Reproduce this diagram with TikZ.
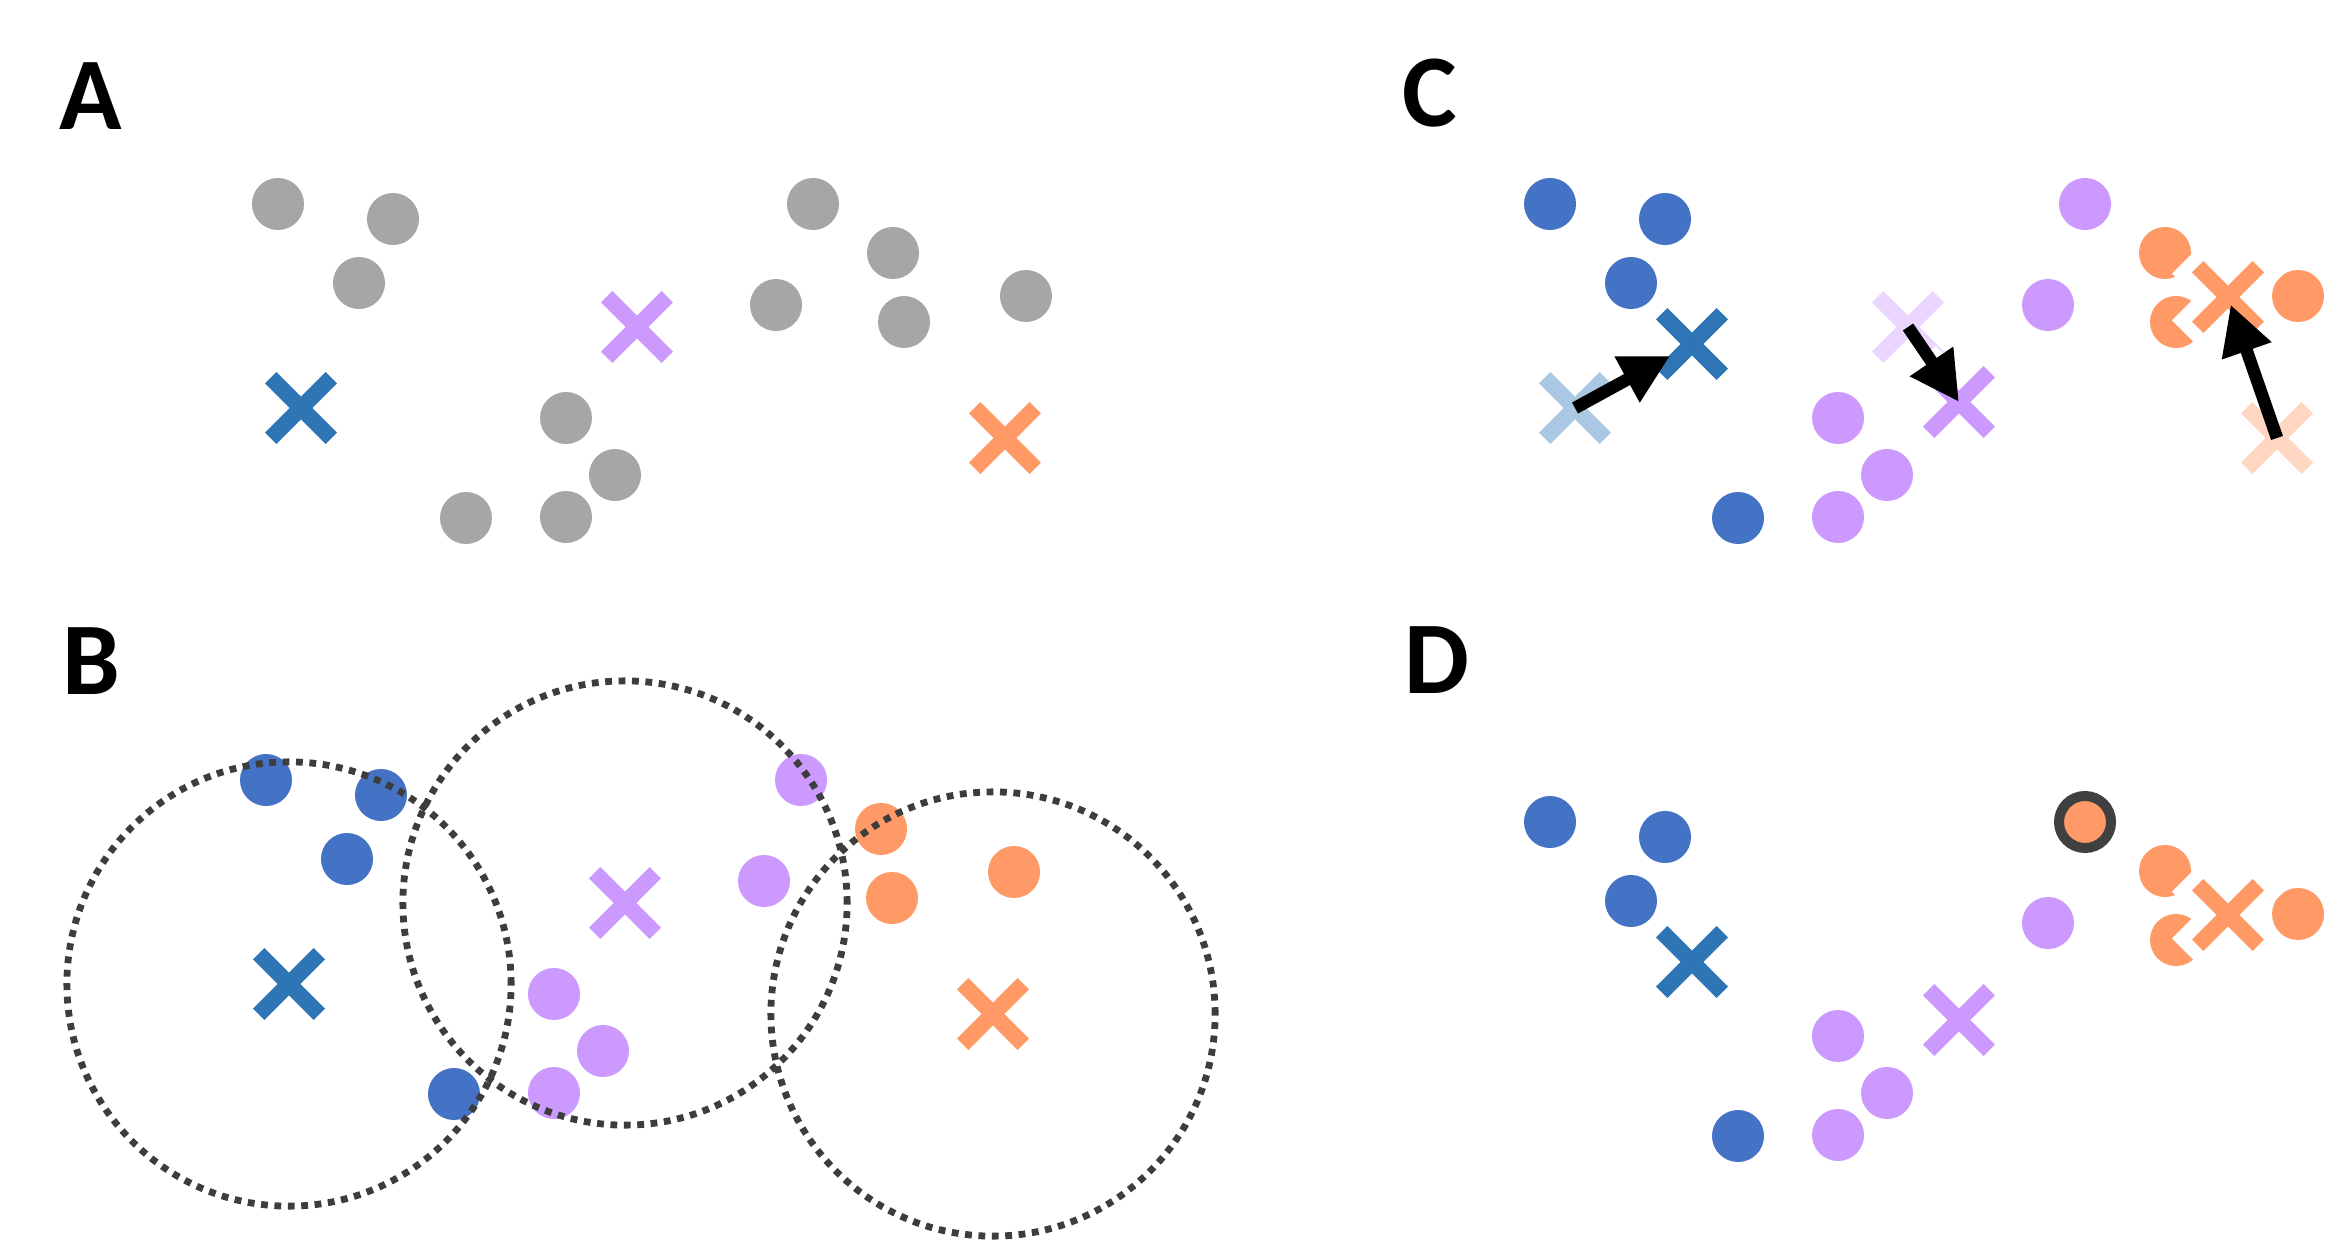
\documentclass[tikz,border=0pt]{standalone}
\usepackage{fontspec}
\setsansfont{Carlito}
\usetikzlibrary{arrows.meta}

\definecolor{ptblue}{HTML}{4472C4}
\definecolor{ctblue}{HTML}{2E75B6}
\definecolor{ptpurple}{HTML}{CC99FF}
\definecolor{ptorange}{HTML}{FF9966}
\definecolor{ptgray}{HTML}{A6A6A6}
\definecolor{ringgray}{HTML}{404040}

\begin{document}
\begin{tikzpicture}[x=0.01cm,y=-0.01cm,
    dot/.style={circle,inner sep=0pt,minimum size=0.52cm},
    ring/.style={circle,draw=ringgray,line width=0.10cm,inner sep=0pt,minimum size=0.52cm},
    panel/.style={font=\sffamily\bfseries\fontsize{29.3}{30}\selectfont,inner sep=0pt},
    reach/.style={draw=ringgray!95!black,line width=0.068cm,dash pattern=on 0.068cm off 0.066cm},
    move/.style={draw=black,line width=0.125cm,-{Triangle[length=0.49cm,width=0.49cm]}},
    xmark/.pic={
        \draw[white,line width=0.46cm] (-39.7,-39.7) -- (39.7,39.7) (-39.7,39.7) -- (39.7,-39.7);
        \draw[line width=0.16cm] (-30.3,-30.3) -- (30.3,30.3) (-30.3,30.3) -- (30.3,-30.3);
        \coordinate (-c) at (0,0);
    }
    ]

    \fill[white] (0,0) rectangle (2334,1240);
    \useasboundingbox (0,0) rectangle (2334,1240);

    \node[panel] (labA) at (91,96) {A};
    \node[panel] (labB) at (91,661) {B};
    \node[panel] (labC) at (1430,93) {C};
    \node[panel] (labD) at (1437,660) {D};

    % A: data points and initial centroids
    \foreach \x/\y [count=\i] in {278/204,393/219,359/283,466/518,566/418,615/475,
        566/517,813/204,776/305,893/253,904/322,1026/296}
        \node[dot,fill=ptgray] (a\i) at (\x,\y) {};
    \pic[color=ctblue] (ablue) at (301,408) {xmark};
    \pic[color=ptpurple] (apurple) at (637,327) {xmark};
    \pic[color=ptorange] (aorange) at (1005,438) {xmark};

    % B: assignment to nearest centroid
    \begin{scope}[shift={(-12,576)}]
        \foreach \x/\y/\c [count=\i] in {278/204/ptblue,393/219/ptblue,359/283/ptblue,
            466/518/ptblue,566/418/ptpurple,615/475/ptpurple,566/517/ptpurple,
            813/204/ptpurple,776/305/ptpurple,893/253/ptorange,904/322/ptorange,
            1026/296/ptorange}
            \node[dot,fill=\c] (b\i) at (\x,\y) {};
        \pic[color=ctblue] (bblue) at (301,408) {xmark};
        \pic[color=ptpurple] (bpurple) at (637,327) {xmark};
        \pic[color=ptorange] (borange) at (1005,438) {xmark};
        \draw[reach] (bblue-c) circle[radius=2.22cm];
        \draw[reach] (bpurple-c) circle[radius=2.22cm];
        \draw[reach] (borange-c) circle[radius=2.22cm];
    \end{scope}

    % C: centroids move to cluster means
    \begin{scope}[shift={(1272,0)}]
        \foreach \x/\y/\c [count=\i] in {278/204/ptblue,393/219/ptblue,359/283/ptblue,
            466/518/ptblue,566/418/ptpurple,615/475/ptpurple,566/517/ptpurple,
            813/204/ptpurple,776/305/ptpurple,893/253/ptorange,904/322/ptorange,
            1026/296/ptorange}
            \node[dot,fill=\c] (c\i) at (\x,\y) {};
        \pic[color=ctblue!40] (cblueold) at (303,408) {xmark};
        \pic[color=ptpurple!40] (cpurpleold) at (636,327) {xmark};
        \pic[color=ptorange!40] (corangeold) at (1005,438) {xmark};
        \pic[color=ctblue] (cblue) at (420,344) {xmark};
        \pic[color=ptpurple] (cpurple) at (687,402) {xmark};
        \pic[color=ptorange] (corange) at (956,297) {xmark};
        \draw[move,shorten >=0.25cm] (cblueold-c) -- (cblue-c);
        \draw[move] (cpurpleold-c) -- (cpurple-c);
        \draw[move,shorten >=0.08cm] (corangeold-c) -- (corange-c);
    \end{scope}

    % D: reassignment
    \begin{scope}[shift={(1272,618)}]
        \foreach \x/\y/\c [count=\i] in {278/204/ptblue,393/219/ptblue,359/283/ptblue,
            466/518/ptblue,566/418/ptpurple,615/475/ptpurple,566/517/ptpurple,
            813/204/ptorange,776/305/ptpurple,893/253/ptorange,904/322/ptorange,
            1026/296/ptorange}
            \node[dot,fill=\c] (d\i) at (\x,\y) {};
        \node[ring,fill=ptorange] (dswap) at (d8) {};
        \pic[color=ctblue] (dblue) at (420,344) {xmark};
        \pic[color=ptpurple] (dpurple) at (687,402) {xmark};
        \pic[color=ptorange] (dorange) at (956,297) {xmark};
    \end{scope}

\end{tikzpicture}
\end{document}
